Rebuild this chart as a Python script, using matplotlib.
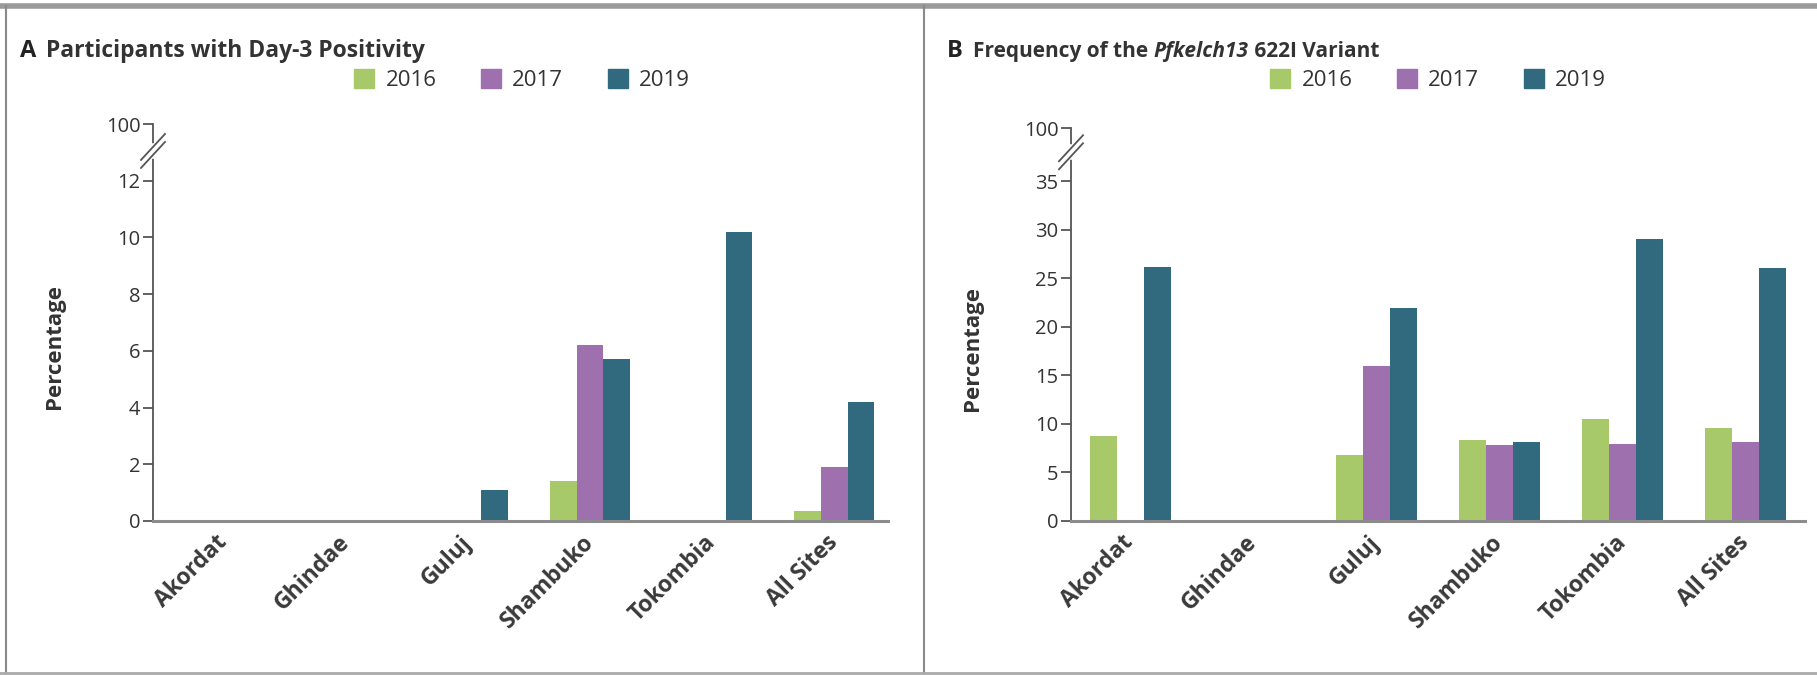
import numpy as np
import matplotlib
matplotlib.use("Agg")
import matplotlib.pyplot as plt
import matplotlib.transforms as mtransforms
from matplotlib.patches import Patch
from matplotlib.lines import Line2D

plt.rcParams['font.family'] = ['Open Sans', 'DejaVu Sans']

# data
sites = ['Akordat', 'Ghindae', 'Guluj', 'Shambuko', 'Tokombia', 'All Sites']
years = ['2016', '2017', '2019']
colors = ['#a7c96a', '#9f70ae', '#316a7f']

day3_2016 = [0, 0, 0, 1.4, 0, 0.35]
day3_2017 = [0, 0, 0, 6.2, 0, 1.9]
day3_2019 = [0, 0, 1.1, 5.7, 10.2, 4.2]

k13_2016 = [8.8, 0, 6.8, 8.3, 10.5, 9.6]
k13_2017 = [0.1, 0.15, 16.0, 7.8, 7.9, 8.1]
k13_2019 = [26.2, 0, 21.9, 8.1, 29.1, 26.1]

W, H = 1817, 676
fig = plt.figure(figsize=(W / 100, H / 100), dpi=100)


def fx(px):
    return px / W


def fy(py):
    return 1 - py / H


# frame lines
gray = '#8a8a8a'
fig.add_artist(Line2D([0, 1], [fy(6), fy(6)], color='#9a9a9a', lw=4))
fig.add_artist(Line2D([fx(6), fx(6)], [fy(6), fy(673)], color=gray, lw=1.5))
fig.add_artist(Line2D([fx(924), fx(924)], [fy(6), fy(673)], color=gray, lw=1.5))
fig.add_artist(Line2D([0, 1], [fy(673), fy(673)], color='#aaaaaa', lw=2))


def panel(left, right, top, ytop, ticks, vals, ybreak, xlim):
    ax = fig.add_axes([fx(left), fy(521), fx(right - left), (521 - top) / H])
    x = np.arange(len(sites))
    bw = 0.219
    for i, v in enumerate(vals):
        ax.bar(x + (i - 1) * bw, v, width=bw, color=colors[i], linewidth=0, zorder=2)
    ax.set_xlim(*xlim)
    ax.set_ylim(0, ytop)
    ax.set_yticks(list(ticks) + [ytop])
    ax.set_yticklabels([str(t) for t in ticks] + ['100'])
    ax.set_xticks(x)
    ax.set_xticklabels(sites, rotation=45, ha='right', va='center',
                       rotation_mode='anchor', fontsize=16.5, fontweight='bold',
                       color='#3a3a3a')
    shift = mtransforms.ScaledTranslation(0.05, 0.0, fig.dpi_scale_trans)
    for lab in ax.get_xticklabels():
        lab.set_transform(lab.get_transform() + shift)
    ax.tick_params(axis='x', length=0, pad=13)
    ax.tick_params(axis='y', length=7, width=1.3, color='#555555', pad=2,
                   labelsize=14.5, labelcolor='#333333')
    for s in ['top', 'right']:
        ax.spines[s].set_visible(False)
    ax.spines['left'].set_color('#555555')
    ax.spines['left'].set_linewidth(1.3)
    ax.spines['bottom'].set_color('#8c8c8c')
    ax.spines['bottom'].set_linewidth(2.2)
    ax.set_ylabel('Percentage', fontsize=16, fontweight='bold', color='#333333')
    ax.yaxis.set_label_coords(-88.0 / (right - left), 0.44)
    # axis break marks
    wpx = right - left
    hpx = 521 - top
    dx = 1.0 / wpx
    dy = ytop / hpx
    tr = mtransforms.blended_transform_factory(ax.transAxes, ax.transData)
    ax.plot([0, 0], [ybreak - 5 * dy, ybreak + 5 * dy], color='white', lw=4,
            transform=tr, clip_on=False, zorder=5)
    for off in (-4, 4):
        ax.plot([-12 * dx, 12 * dx],
                [ybreak + (off - 13) * dy, ybreak + (off + 13) * dy],
                color='#555555', lw=1.3, transform=tr, clip_on=False, zorder=6)
    return ax


axA = panel(153, 888, 124, 14.0, range(0, 13, 2),
            [day3_2016, day3_2017, day3_2019], 13.05, (-0.58, 5.44))
axB = panel(1071, 1805, 128, 40.5, range(0, 36, 5),
            [k13_2016, k13_2017, k13_2019], 38.0, (-0.48, 5.48))

# titles, drawn piece by piece so part can be italic
renderer = fig.canvas.get_renderer()


def title(x0, letter, pieces, size):
    fig.text(fx(x0), fy(57), letter, fontsize=17, fontweight='bold',
             color='#222222', va='baseline')
    x = x0 + 26
    for txt, style in pieces:
        t = fig.text(fx(x), fy(57), txt, fontsize=size, fontweight='bold',
                     style=style, color='#333333', va='baseline')
        bb = t.get_window_extent(renderer)
        x += bb.width


title(20, 'A', [('Participants with Day-3 Positivity', 'normal')], 16.5)
title(947, 'B', [('Frequency of the ', 'normal'), ('Pfkelch13', 'italic'),
                 (' 622I Variant', 'normal')], 15)

# legends
handles = [Patch(color=c, label=y) for c, y in zip(colors, years)]
for cx in (522, 1438):
    fig.legend(handles=handles, loc='center', bbox_to_anchor=(fx(cx), fy(80)),
               ncol=3, frameon=False, fontsize=16, handlelength=0.9, handleheight=0.9,
               handletextpad=0.5, columnspacing=2.0, labelcolor='#333333')

fig.savefig('out.png', dpi=100)
